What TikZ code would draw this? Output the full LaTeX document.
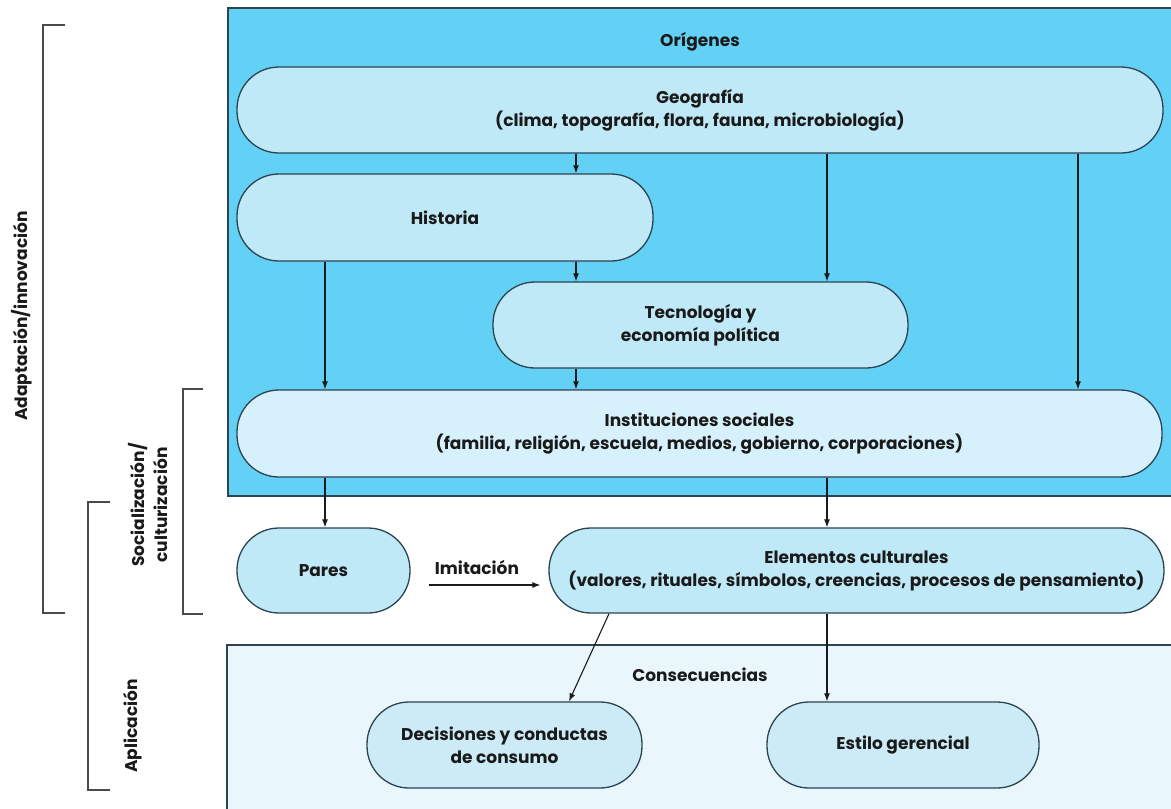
\documentclass[tikz,border=0pt]{standalone}
\usepackage{fontspec}
\setmainfont{Poppins}
\usetikzlibrary{arrows.meta}
\definecolor{bgblue}{HTML}{63D0F5}
\definecolor{nodefill}{HTML}{C0E9F8}
\definecolor{instfill}{HTML}{D6F1FB}
\definecolor{lowfill}{HTML}{CDEBF7}
\definecolor{pale}{HTML}{E9F7FC}
\definecolor{edge}{HTML}{2C4350}
\definecolor{ink}{HTML}{1A1A1A}
\definecolor{brk}{HTML}{4A4A4A}
\tikzset{
  txt/.style={text=ink, font=\fontsize{17}{23}\selectfont\bfseries, align=center},
  box/.style={txt, draw=edge, line width=1.3pt, fill=nodefill, rounded corners=42pt, inner sep=0pt},
  arr/.style={draw=ink, line width=1.1pt, -{Latex[length=8pt,width=6pt]}},
  frame/.style={draw=edge, line width=1.4pt},
  bracket/.style={draw=brk, line width=1.5pt},
}
\begin{document}
\begin{tikzpicture}[x=1pt,y=-1pt]
\path[use as bounding box] (0,0) rectangle (1171,809);
\begin{scope}
\clip (0,0) rectangle (1171,809);
\fill[bgblue] (228,8) rectangle (1180,496);
\draw[frame] (1180,8) -- (228,8) -- (228,496) -- (1180,496);
\fill[pale] (227,645) rectangle (1180,820);
\draw[frame] (1180,645) -- (227,645) -- (227,820);
\end{scope}

\node[txt] (orig) at (700,42) {Orígenes};
\node[txt] (cons) at (700,675) {Consecuencias};

\node[box, minimum width=926pt, minimum height=86pt] (geo) at (700,110)
  {Geografía\\(clima, topografía, flora, fauna, microbiología)};
\node[box, minimum width=416pt, minimum height=87pt] (hist) at (445,217.5) {Historia};
\node[box, minimum width=415pt, minimum height=86pt] (tec) at (700.5,325)
  {Tecnología y\\economía política};
\node[box, fill=instfill, minimum width=925pt, minimum height=87pt] (inst) at (699.5,433.5)
  {Instituciones sociales\\(familia, religión, escuela, medios, gobierno, corporaciones)};
\node[box, minimum width=173pt, minimum height=85pt] (pares) at (323.5,570.5) {Pares};
\node[box, minimum width=615pt, minimum height=85pt] (elem) at (856.5,570.5)
  {Elementos culturales\\(valores, rituales, símbolos, creencias, procesos de pensamiento)};
\node[box, fill=lowfill, minimum width=275pt, minimum height=86pt] (dec) at (504.5,745)
  {Decisiones y conductas\\de consumo};
\node[box, fill=lowfill, minimum width=272pt, minimum height=86pt] (est) at (903,745)
  {Estilo gerencial};

\draw[arr] (geo.south -| 576,0) -- (hist.north -| 576,0);
\draw[arr] (geo.south -| 827,0) -- (tec.north -| 827,0);
\draw[arr] (geo.south -| 1078,0) -- (inst.north -| 1078,0);
\draw[arr] (hist.south -| 576,0) -- (tec.north -| 576,0);
\draw[arr] (hist.south -| 325,0) -- (inst.north -| 325,0);
\draw[arr] (tec.south -| 576,0) -- (inst.north -| 576,0);
\draw[arr] (inst.south -| 325,0) -- (pares.north -| 325,0);
\draw[arr] (inst.south -| 827,0) -- (elem.north -| 827,0);
\draw[arr] (elem.south -| 609,0) -- (dec.north -| 569,0);
\draw[arr] (elem.south -| 827,0) -- (est.north -| 827,0);

\coordinate (imA) at (429,585);
\draw[arr, shorten >=8pt] (imA) -- (elem.west |- imA);
\node[txt] (imit) at (477,567) {Imitación};

\draw[bracket] (65,25) -- (43,25) -- (43,613) -- (65,613);
\draw[bracket] (203,389) -- (183,389) -- (183,614) -- (203,614);
\draw[bracket] (110,502) -- (88,502) -- (88,790) -- (110,790);

\node[txt, rotate=90] (adap) at (22,316) {Adaptación/innovación};
\node[txt, rotate=90] (soc) at (148,505) {Socialización/\\culturización};
\node[txt, rotate=90] (apl) at (133,726) {Aplicación};
\end{tikzpicture}
\end{document}
